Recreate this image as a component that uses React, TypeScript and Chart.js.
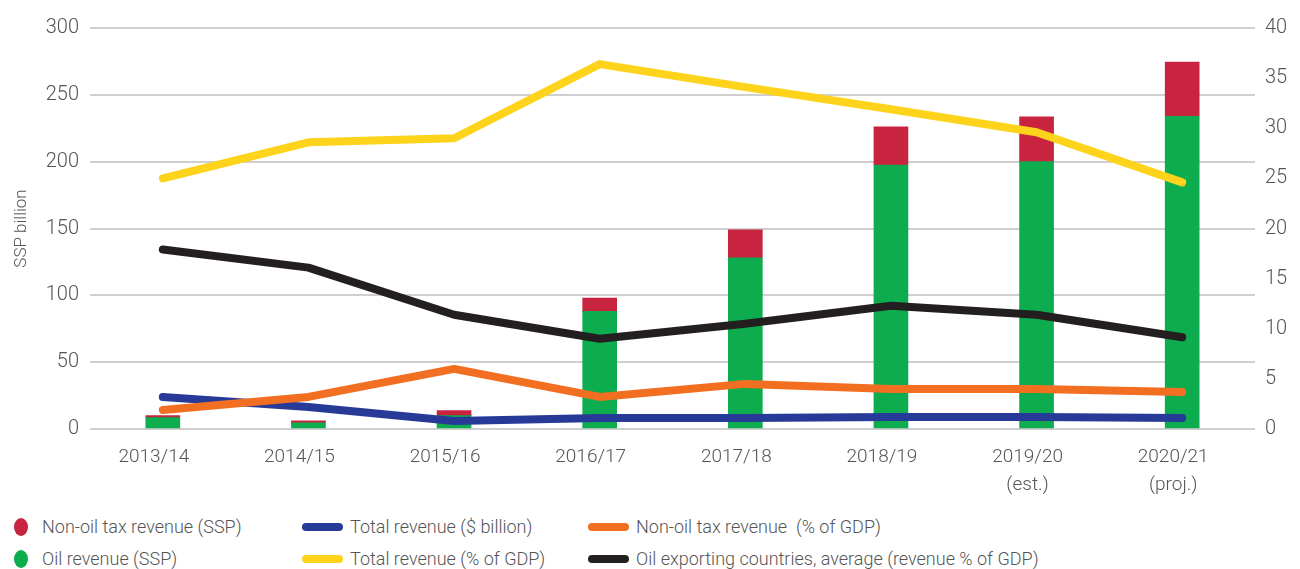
import React, { useEffect, useRef } from "react";
import { Chart, registerables } from "chart.js";
Chart.register(...registerables);

const categories: string[][] = [
  ["2013/14"],
  ["2014/15"],
  ["2015/16"],
  ["2016/17"],
  ["2017/18"],
  ["2018/19"],
  ["2019/20", "(est.)"],
  ["2020/21", "(proj.)"],
];
const oilRevenue = [8.5, 4.7, 10, 88, 128, 197.5, 200, 234];
const nonOilTax = [1.5, 1.5, 3.7, 10, 21, 28.5, 33.5, 40.5];
const totalRevenueUSD = [3.2, 2.2, 0.8, 1.1, 1.1, 1.2, 1.2, 1.1];
const totalRevenueGDP = [25.0, 28.6, 29.0, 36.4, 34.1, 31.9, 29.6, 24.6];
const nonOilTaxGDP = [1.9, 3.2, 6.0, 3.2, 4.5, 4.0, 4.0, 3.7];
const oilExportersAvg = [17.9, 16.1, 11.4, 9.0, 10.5, 12.3, 11.4, 9.15];

const leftAxis = { min: 0, max: 300, step: 50, title: "SSP billion" };
const rightAxis = { min: 0, max: 40, step: 5 };

const COLORS = {
  red: "#C8233F",
  green: "#0DAD4F",
  blue: "#283A97",
  yellow: "#FDD31B",
  orange: "#F26F21",
  black: "#231F20",
};

const FONT = "Roboto, 'Noto Sans', sans-serif";
const TEXT = "#555555";

const legendItems = [
  { label: "Non-oil tax revenue (SSP)", color: COLORS.red, kind: "dot", col: 0, row: 0 },
  { label: "Total revenue ($ billion)", color: COLORS.blue, kind: "line", col: 1, row: 0 },
  { label: "Non-oil tax revenue  (% of GDP)", color: COLORS.orange, kind: "line", col: 2, row: 0 },
  { label: "Oil revenue (SSP)", color: COLORS.green, kind: "dot", col: 0, row: 1 },
  { label: "Total revenue (% of GDP)", color: COLORS.yellow, kind: "line", col: 1, row: 1 },
  { label: "Oil exporting countries, average (revenue % of GDP)", color: COLORS.black, kind: "line", col: 2, row: 1 },
];

export default function App() {
  const ref = useRef<HTMLCanvasElement | null>(null);

  useEffect(() => {
    if (!ref.current) return;
    const lineDs = (label: string, data: number[], color: string) => ({
      type: "line" as const,
      label,
      data,
      yAxisID: "y1",
      borderColor: color,
      backgroundColor: color,
      borderWidth: 8,
      pointRadius: 0,
      borderCapStyle: "round" as const,
      borderJoinStyle: "round" as const,
      tension: 0,
      order: 0,
    });
    const chart = new Chart(ref.current, {
      type: "bar",
      data: {
        labels: categories,
        datasets: [
          lineDs("Total revenue (% of GDP)", totalRevenueGDP, COLORS.yellow),
          lineDs("Oil exporting countries, average (revenue % of GDP)", oilExportersAvg, COLORS.black),
          lineDs("Non-oil tax revenue  (% of GDP)", nonOilTaxGDP, COLORS.orange),
          lineDs("Total revenue ($ billion)", totalRevenueUSD, COLORS.blue),
          {
            type: "bar",
            label: "Oil revenue (SSP)",
            data: oilRevenue,
            backgroundColor: COLORS.green,
            yAxisID: "y",
            barThickness: 34,
            order: 1,
          },
          {
            type: "bar",
            label: "Non-oil tax revenue (SSP)",
            data: nonOilTax,
            backgroundColor: COLORS.red,
            yAxisID: "y",
            barThickness: 34,
            order: 1,
          },
        ] as any,
      },
      options: {
        animation: false,
        responsive: false,
        layout: { padding: { top: 28, left: 0, right: 0, bottom: 0 } },
        plugins: { legend: { display: false }, tooltip: { enabled: false } },
        scales: {
          x: {
            stacked: true,
            grid: { display: false, drawTicks: false },
            border: { display: false },
            ticks: {
              color: TEXT,
              font: { family: FONT, size: 19, weight: 300, lineHeight: 1.47 } as any,
              padding: 14,
              maxRotation: 0,
              labelOffset: -9,
            },
            afterFit: (s: any) => {
              s.height = 71;
            },
          },
          y: {
            stacked: true,
            position: "left",
            min: leftAxis.min,
            max: leftAxis.max,
            ticks: {
              stepSize: leftAxis.step,
              color: TEXT,
              padding: 11,
              font: { family: FONT, size: 20, weight: 300 } as any,
            },
            grid: { color: "#cfcfcf", lineWidth: 2, drawTicks: false },
            border: { display: false },
            title: {
              display: true,
              text: leftAxis.title,
              color: TEXT,
              font: { family: FONT, size: 17, weight: 300 } as any,
              padding: { top: 12, bottom: 0 },
            },
            afterFit: (s: any) => {
              s.width = 90;
            },
          },
          y1: {
            stacked: false,
            position: "right",
            min: rightAxis.min,
            max: rightAxis.max,
            ticks: {
              stepSize: rightAxis.step,
              color: TEXT,
              padding: 10,
              font: { family: FONT, size: 20, weight: 300 } as any,
            },
            grid: { drawOnChartArea: false, drawTicks: false },
            border: { display: false },
            afterFit: (s: any) => {
              s.width = 45;
            },
          },
        },
      } as any,
    });
    return () => chart.destroy();
  }, []);

  return (
    <div style={{ position: "absolute", left: 0, top: 0, width: 1300, height: 569, background: "#fff", fontFamily: FONT }}>
      <canvas ref={ref} width={1300} height={500} style={{ display: "block", width: 1300, height: 500 }} />
      {legendItems.map((it, i) => {
        const colX = [14, 302, 588][it.col];
        const cy = [527, 559][it.row];
        const textX = [42, 350, 636][it.col];
        return (
          <React.Fragment key={i}>
            {it.kind === "dot" ? (
              <div
                style={{
                  position: "absolute",
                  left: colX,
                  top: cy - 9,
                  width: 14,
                  height: 18,
                  borderRadius: "50%",
                  background: it.color,
                }}
              />
            ) : (
              <div
                style={{
                  position: "absolute",
                  left: colX,
                  top: cy - 4,
                  width: 41,
                  height: 8,
                  borderRadius: 4,
                  background: it.color,
                }}
              />
            )}
            <div
              style={{
                position: "absolute",
                left: textX,
                top: cy - 12,
                height: 24,
                lineHeight: "24px",
                fontSize: 18,
                fontWeight: 300,
                color: TEXT,
                whiteSpace: "pre",
              }}
            >
              {it.label}
            </div>
          </React.Fragment>
        );
      })}
    </div>
  );
}
